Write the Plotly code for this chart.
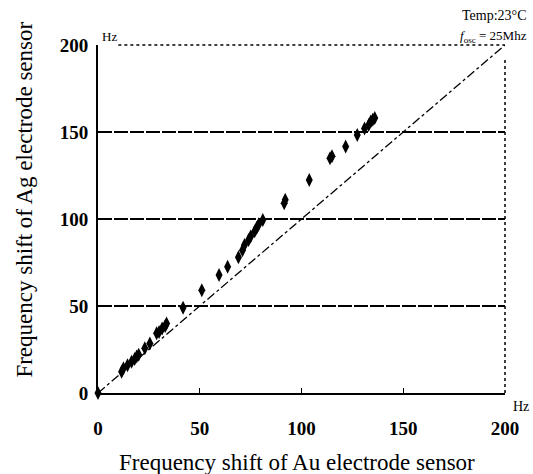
import plotly.graph_objects as go

au_shift = [0, 11.6, 12.5, 14.5, 16.5, 18, 19, 20, 23, 25.5, 28.8, 30, 31.5, 33, 33.7,
            41.8, 51, 59.5, 63.7, 69, 71, 72, 74, 75, 77, 78, 79, 81, 91.5, 92,
            103.8, 114, 115, 121.7, 127.4, 131, 133, 134, 135, 136]
ag_shift = [0, 12.2, 14.2, 16, 18, 19.5, 21, 22, 25.7, 28.5, 34.3, 35, 37, 38.5, 40,
            49, 59, 67.8, 72.6, 78, 82, 85, 88, 90, 93, 95, 97, 99.4, 109, 111,
            122.4, 134.9, 136, 141.6, 148.3, 152, 154, 156, 157, 158]
ref_line = [0, 200]
tick_vals = [0, 50, 100, 150, 200]
tick_text = ["<b>0</b>", "<b>50</b>", "<b>100</b>", "<b>150</b>", "<b>200</b>"]

serif = "Liberation Serif"

fig = go.Figure()
fig.add_trace(go.Scatter(x=ref_line, y=ref_line, mode="lines",
                         line=dict(color="black", width=1.3, dash="dashdot"),
                         hoverinfo="skip", showlegend=False))
fig.add_trace(go.Scatter(x=au_shift, y=ag_shift, mode="markers",
                         marker=dict(symbol="diamond-tall", size=10, color="black"),
                         cliponaxis=False, showlegend=False))

fig.update_layout(
    width=533, height=474,
    margin=dict(l=98, r=28, t=45, b=81),
    paper_bgcolor="white", plot_bgcolor="white",
    font=dict(family=serif, color="black"),
    showlegend=False,
    xaxis=dict(range=[0, 200], tickvals=tick_vals, ticktext=tick_text,
               showgrid=False, zeroline=False, showline=True, linecolor="black",
               linewidth=2, ticks="inside", ticklen=5, tickcolor="black",
               tickfont=dict(family=serif, size=19), ticklabelstandoff=17),
    yaxis=dict(range=[0, 200], tickvals=tick_vals, ticktext=tick_text,
               showgrid=True, gridcolor="black", gridwidth=1.7, griddash="14px,2px",
               zeroline=False, showline=True, linecolor="black", linewidth=2,
               ticks="", tickfont=dict(family=serif, size=19), ticklabelstandoff=4),
    shapes=[
        dict(type="line", xref="paper", yref="paper", x0=0.05, x1=1, y0=1, y1=1,
             line=dict(color="black", width=1.5, dash="dot")),
        dict(type="line", xref="paper", yref="paper", x0=1, x1=1, y0=0, y1=0.96,
             line=dict(color="black", width=1.5, dash="dot")),
    ],
    annotations=[
        dict(text="Frequency shift of Au electrode sensor", xref="paper", yref="paper",
             x=0.49, y=-0.2, xanchor="center", yanchor="middle", showarrow=False,
             font=dict(family=serif, size=23)),
        dict(text="Frequency shift of Ag electrode sensor", xref="paper", yref="paper",
             x=-0.18, y=0.555, xanchor="center", yanchor="middle", showarrow=False,
             textangle=-90, font=dict(family=serif, size=23)),
        dict(text="Temp:23°C", xref="paper", yref="paper", x=1.06, y=1.085,
             xanchor="right", yanchor="middle", showarrow=False,
             font=dict(family=serif, size=14)),
        dict(text="<i>f</i><sub>osc</sub> = 25Mhz", xref="paper", yref="paper", x=1.06, y=1.025,
             xanchor="right", yanchor="middle", showarrow=False,
             font=dict(family=serif, size=13)),
        dict(text="Hz", xref="paper", yref="paper", x=0.005, y=1.025,
             xanchor="left", yanchor="middle", showarrow=False,
             font=dict(family=serif, size=13)),
        dict(text="Hz", xref="paper", yref="paper", x=1.015, y=-0.04,
             xanchor="left", yanchor="middle", showarrow=False,
             font=dict(family=serif, size=14)),
    ],
)

fig.write_html("out.html")
